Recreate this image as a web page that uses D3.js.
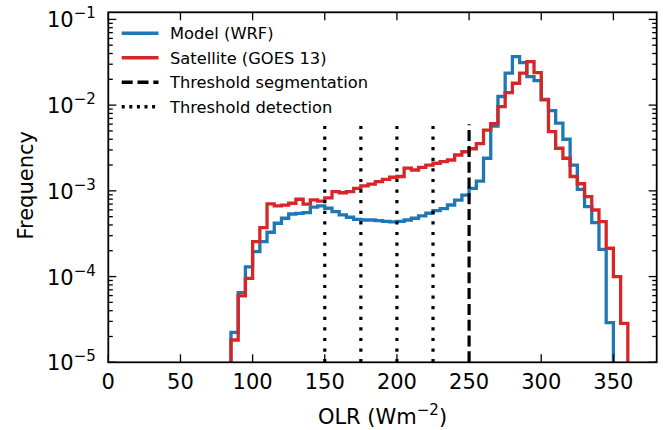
<!DOCTYPE html>
<html>
<head>
<meta charset="utf-8">
<script src="https://cdn.jsdelivr.net/npm/d3@7"></script>
<style>
  body { margin: 0; background: #fff; }
  text { font-family: 'DejaVu Sans', sans-serif; fill: #000; }
</style>
</head>
<body>
<div id="app"></div>
<script>
const width = 663;
const height = 430;

// histogram bin edges (OLR, W m-2)
const modelEdges = [85, 90, 95, 100, 105, 110, 115, 120, 125, 130, 135, 140, 145, 150, 155, 160, 165, 170, 175, 180,
  185, 190, 195, 200, 205, 210, 215, 220, 225, 230, 235, 240, 245, 250, 255, 260, 265, 270, 275, 280,
  285, 290, 295, 300, 305, 310, 315, 320, 325, 330, 335, 340, 345, 350];
const satEdges = [85, 90, 95, 100, 105, 110, 115, 120, 125, 130, 135, 140, 145, 150, 155, 160, 165, 170, 175, 180,
  185, 190, 195, 200, 205, 210, 215, 220, 225, 230, 235, 240, 245, 250, 255, 260, 265, 270, 275, 280,
  285, 290, 295, 300, 305, 310, 315, 320, 325, 330, 335, 340, 345, 350, 355, 360];

const modelFreq = [2.24e-5, 6.5e-5, 1.3e-4, 1.95e-4, 2.55e-4, 3.29e-4, 4.19e-4, 4.79e-4, 5.37e-4, 5.45e-4,
  5.57e-4, 6.45e-4, 6.67e-4, 6.27e-4, 5.72e-4, 5.24e-4, 4.92e-4, 4.66e-4, 4.57e-4, 4.57e-4,
  4.49e-4, 4.41e-4, 4.34e-4, 4.41e-4, 4.57e-4, 4.79e-4, 5.1e-4, 5.48e-4, 5.88e-4, 6.2e-4,
  6.84e-4, 7.8e-4, 8.9e-4, 1.07e-3, 1.3e-3, 2.4e-3, 5.7e-3, 1.26e-2, 2.36e-2, 3.68e-2,
  3.13e-2, 2.15e-2, 1.93e-2, 1.17e-2, 8.63e-3, 6.15e-3, 4.0e-3, 2.0e-3, 1.04e-3, 6.55e-4,
  4.26e-4, 2.08e-4, 2.9e-5];
const satFreq = [1.82e-5, 5.94e-5, 9.55e-5, 2.55e-4, 3.72e-4, 7.03e-4, 6.67e-4, 6.8e-4, 7.17e-4, 7.98e-4,
  7.0e-4, 7.83e-4, 7.57e-4, 8.3e-4, 9.8e-4, 9.5e-4, 9.8e-4, 1.07e-3, 1.14e-3, 1.2e-3,
  1.28e-3, 1.36e-3, 1.44e-3, 1.47e-3, 1.84e-3, 1.75e-3, 1.88e-3, 2.0e-3, 2.1e-3, 2.19e-3,
  2.29e-3, 2.62e-3, 2.86e-3, 3.1e-3, 3.55e-3, 5.1e-3, 6.1e-3, 9.6e-3, 1.4e-2, 1.8e-2,
  2.36e-2, 3.22e-2, 2.39e-2, 1.15e-2, 4.91e-3, 3.14e-3, 2.4e-3, 1.47e-3, 1.21e-3, 8.55e-4,
  5.98e-4, 4.37e-4, 2.14e-4, 1.0e-4, 2.85e-5];

const segThresholds = [250];
const detThresholds = [150, 175, 200, 225];
const thresholdTop = 6e-3;

const xTicks = [0, 50, 100, 150, 200, 250, 300, 350];
const yTicks = [1e-5, 1e-4, 1e-3, 1e-2, 1e-1];

const legendItems = [
  {label: 'Model (WRF)', color: '#1f77b4', dash: null},
  {label: 'Satellite (GOES 13)', color: '#d62728', dash: null},
  {label: 'Threshold segmentation', color: '#000', dash: '11,4.8'},
  {label: 'Threshold detection', color: '#000', dash: '3,4.6'},
];

const margin = {top: 12.3, right: 6.3, bottom: 67.7, left: 108.3};

const x = d3.scaleLinear().domain([0, 380]).range([margin.left, width - margin.right]);
const y = d3.scaleLog().domain([1e-5, 0.121]).range([height - margin.bottom, margin.top]);

const svg = d3.create('svg')
  .attr('width', width)
  .attr('height', height)
  .attr('viewBox', [0, 0, width, height]);

svg.append('defs').append('clipPath').attr('id', 'plot')
  .append('rect')
  .attr('x', margin.left).attr('y', margin.top)
  .attr('width', width - margin.left - margin.right)
  .attr('height', height - margin.top - margin.bottom);

const plot = svg.append('g').attr('clip-path', 'url(#plot)');

// step outline like a histtype='step' histogram
function stepPoints(edges, values) {
  const pts = [[edges[0], 1e-7]];
  values.forEach((v, i)=>{
    pts.push([edges[i], v]);
    pts.push([edges[i + 1], v]);
  });
  pts.push([edges[edges.length - 1], 1e-7]);
  return pts;
}

const line = d3.line().x((d)=>x(d[0])).y((d)=>y(d[1]));

plot.append('path')
  .attr('d', line(stepPoints(modelEdges, modelFreq)))
  .attr('fill', 'none')
  .attr('stroke', '#1f77b4')
  .attr('stroke-width', 3.3)
  .attr('stroke-linejoin', 'miter');

plot.append('path')
  .attr('d', line(stepPoints(satEdges, satFreq)))
  .attr('fill', 'none')
  .attr('stroke', '#d62728')
  .attr('stroke-width', 3.3)
  .attr('stroke-linejoin', 'miter');

plot.selectAll('line.det')
  .data(detThresholds)
  .join('line')
  .attr('class', 'det')
  .attr('x1', (d)=>x(d)).attr('x2', (d)=>x(d))
  .attr('y1', y(1e-5)).attr('y2', y(thresholdTop))
  .attr('stroke', '#000')
  .attr('stroke-width', 3.2)
  .attr('stroke-dasharray', '3.2,7.4');

plot.selectAll('line.seg')
  .data(segThresholds)
  .join('line')
  .attr('class', 'seg')
  .attr('x1', (d)=>x(d)).attr('x2', (d)=>x(d))
  .attr('y1', y(1e-5)).attr('y2', y(thresholdTop))
  .attr('stroke', '#000')
  .attr('stroke-width', 3.2)
  .attr('stroke-dasharray', '11,4.8');

// ticks, inward on all four sides
const x0 = margin.left;
const x1 = width - margin.right;
const y0 = height - margin.bottom;
const y1 = margin.top;
const majorLen = 8;
const minorLen = 4.5;

const ticks = svg.append('g').attr('stroke', '#000').attr('stroke-width', 1.3);

xTicks.forEach((t)=>{
  ticks.append('line').attr('x1', x(t)).attr('x2', x(t)).attr('y1', y0).attr('y2', y0 - majorLen);
  ticks.append('line').attr('x1', x(t)).attr('x2', x(t)).attr('y1', y1).attr('y2', y1 + majorLen);
});

const minorY = [];
yTicks.forEach((t)=>{
  for (let k = 2; k <= 9; k++) {
    if (t * k < y.domain()[1]) minorY.push(t * k);
  }
});

yTicks.forEach((t)=>{
  ticks.append('line').attr('x1', x0).attr('x2', x0 + majorLen).attr('y1', y(t)).attr('y2', y(t));
  ticks.append('line').attr('x1', x1).attr('x2', x1 - majorLen).attr('y1', y(t)).attr('y2', y(t));
});
minorY.forEach((t)=>{
  ticks.append('line').attr('x1', x0).attr('x2', x0 + minorLen).attr('y1', y(t)).attr('y2', y(t));
  ticks.append('line').attr('x1', x1).attr('x2', x1 - minorLen).attr('y1', y(t)).attr('y2', y(t));
});

svg.append('rect')
  .attr('x', x0).attr('y', y1)
  .attr('width', x1 - x0).attr('height', y0 - y1)
  .attr('fill', 'none')
  .attr('stroke', '#000')
  .attr('stroke-width', 1.8);

// tick labels
svg.append('g')
  .selectAll('text')
  .data(xTicks)
  .join('text')
  .attr('x', (d)=>x(d))
  .attr('y', y0 + 27)
  .attr('text-anchor', 'middle')
  .attr('font-size', 21)
  .text((d)=>d);

const yLab = svg.append('g')
  .selectAll('text')
  .data(yTicks)
  .join('text')
  .attr('x', x0 - 12.5)
  .attr('y', (d)=>y(d) + 8)
  .attr('text-anchor', 'end')
  .attr('font-size', 21);
yLab.append('tspan').text('10');
yLab.append('tspan')
  .attr('dy', -9)
  .attr('font-size', 15)
  .text((d)=>'\u2212' + Math.round(-Math.log10(d)));

// axis labels
const xl = svg.append('text')
  .attr('x', (x0 + x1) / 2)
  .attr('y', 424)
  .attr('text-anchor', 'middle')
  .attr('font-size', 21);
xl.append('tspan').text('OLR (Wm');
xl.append('tspan').attr('dy', -9).attr('font-size', 15).text('\u22122');
xl.append('tspan').attr('dy', 9).text(')');

svg.append('text')
  .attr('transform', `translate(33,${(y0 + y1) / 2 - 2}) rotate(-90)`)
  .attr('text-anchor', 'middle')
  .attr('font-size', 21)
  .text('Frequency');

// legend
const legend = svg.append('g');
legendItems.forEach((d, i)=>{
  const ly = 33.3 + i * 24.5;
  legend.append('line')
    .attr('x1', 121.7).attr('x2', 158.5)
    .attr('y1', ly).attr('y2', ly)
    .attr('stroke', d.color)
    .attr('stroke-width', 3.4)
    .attr('stroke-dasharray', d.dash);
  legend.append('text')
    .attr('x', 170)
    .attr('y', ly)
    .attr('dy', '0.35em')
    .attr('font-size', 16.3)
    .text(d.label);
});

document.getElementById('app').appendChild(svg.node());
</script>
</body>
</html>
